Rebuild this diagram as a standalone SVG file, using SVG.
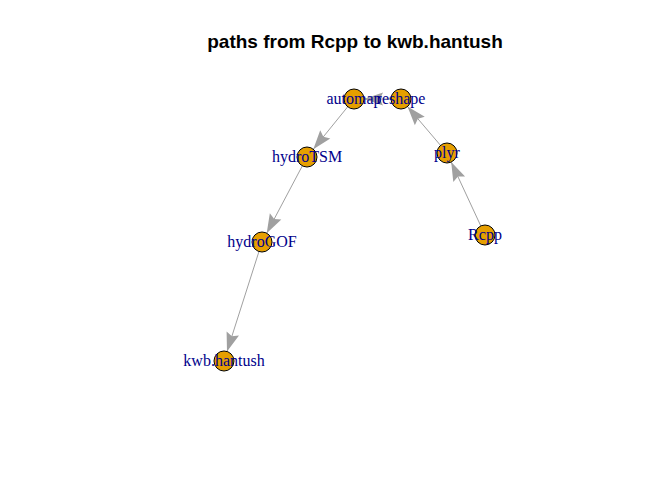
<svg xmlns="http://www.w3.org/2000/svg" width="672" height="480" viewBox="0 0 672 480">
<style>
.edge{stroke:#A0A0A0;stroke-width:1;fill:none;marker-end:url(#arr)}
.node circle{fill:#E69F00;stroke:#000;stroke-width:1}
.node text{font-family:"Liberation Serif",serif;font-size:16px;fill:#00008B;text-anchor:middle}
.title{font-family:"Liberation Sans",Arial,sans-serif;font-size:19px;font-weight:bold;text-anchor:middle;fill:#000}
</style>
<defs>
<marker id="arr" markerUnits="userSpaceOnUse" markerWidth="22" markerHeight="16" viewBox="-20 -8 22 16" refX="0" refY="0" orient="auto">
<path d="M0,0 L-19,-6.5 L-16,0 L-19,6.5 Z" fill="#A0A0A0"/>
</marker>
</defs>
<rect width="672" height="480" fill="#fff"/>
<text class="title" x="355" y="48">paths from Rcpp to kwb.hantush</text>
<g id="connectors">
<line class="edge" x1="485" y1="235" x2="451.2" y2="162.1"/>
<line class="edge" x1="447" y1="153" x2="407.5" y2="106.6"/>
<line class="edge" x1="401" y1="99" x2="364" y2="99"/>
<line class="edge" x1="354" y1="99" x2="313.3" y2="149.2"/>
<line class="edge" x1="307" y1="157" x2="266.7" y2="233.2"/>
<line class="edge" x1="262" y1="242" x2="227" y2="351.5"/>
</g>
<g id="node-automap" class="node"><circle cx="354" cy="99" r="10"/></g>
<g id="node-reshape" class="node"><circle cx="401" cy="99" r="10"/></g>
<g id="node-hydroTSM" class="node"><circle cx="307" cy="157" r="10"/></g>
<g id="node-plyr" class="node"><circle cx="447" cy="153" r="10"/></g>
<g id="node-hydroGOF" class="node"><circle cx="262" cy="242" r="10"/></g>
<g id="node-Rcpp" class="node"><circle cx="485" cy="235" r="10"/></g>
<g id="node-kwb.hantush" class="node"><circle cx="224" cy="361" r="10"/></g>
<g class="node" id="labels">
<text x="354" y="104">automap</text>
<text x="401" y="104">reshape</text>
<text x="307" y="162">hydroTSM</text>
<text x="447" y="158">plyr</text>
<text x="262" y="247">hydroGOF</text>
<text x="485" y="240">Rcpp</text>
<text x="224" y="366">kwb.hantush</text>
</g>
</svg>
